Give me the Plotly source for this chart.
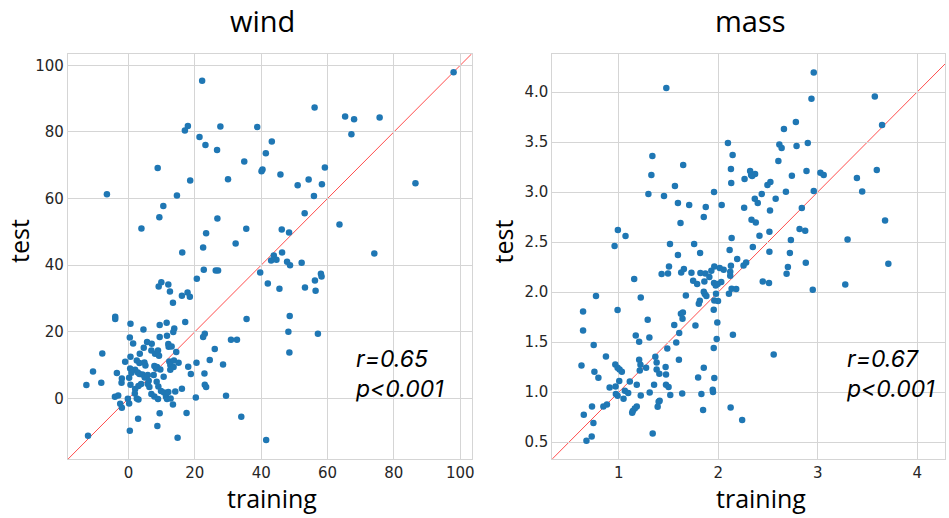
import plotly.graph_objects as go

# ---------------- data ----------------
wind_training = [22.2,17.9,17.0,27.7,38.8,21.4,23.2,26.7,41.4,34.9,40.4,40.1,8.8,30.0,18.6,-6.5,14.6,10.5,9.3,26.8,3.9,23.4,35.5,32.3,16.2,22.5,
    98.0,56.1,65.3,68.0,75.7,67.2,43.2,59.2,45.8,54.3,51.0,58.3,55.9,86.5,53.1,46.2,48.4,63.6,46.3,43.8,74.1,
    43.0,44.6,47.8,48.7,52.2,39.7,42.0,45.5,53.2,56.2,58.0,58.2,56.4,48.6,48.2,57.1,48.5,41.5,
    22.7,26.3,27.0,20.6,9.9,9.1,12.0,12.5,17.8,18.5,16.1,13.4,-4.0,-4.0,0.6,4.5,9.4,11.5,13.8,13.5,17.1,35.6,23.0,22.5,30.9,32.7,26.0,24.5,28.5,20.5,22.9,18.8,18.0,23.0,23.4,29.4,20.3,16.1,34.0,17.5,14.8,8.7,9.4,2.9,0.4,-12.2,-12.7,-8.2,-10.7,-7.9,-1.0,-3.5,-2.0,-2.1,-4.1,-3.1,-2.5,-2.0,-0.2,0.2,0.6,0.2,0.6,0.4,1.4,2.5,3.3,3.4,4.6,5.6,7.0,6.9,8.0,8.9,9.2,9.4,11.6,12.0,12.1,13.0,14.4,12.3,13.7,15.1,12.6,13.6,12.6,4.8,5.1,7.8,8.6,8.3,9.6,7.6,10.6,2.0,2.8,3.3,0.5,0.9,4.2,4.9,5.8,6.1,3.8,3.0,2.0,5.8,6.3,8.5,9.0,9.8,10.7,6.9,7.8,8.9,1.9,2.5,3.0,11.3,11.6,12.7,12.0,14.1,13.4]
wind_test = [95.4,81.8,80.4,81.6,81.5,78.5,76.1,74.6,73.6,71.1,68.7,68.2,69.2,65.8,65.4,61.3,60.9,57.8,54.4,54.0,51.0,49.6,50.9,46.5,43.8,45.3,
    97.9,87.3,84.6,83.8,84.3,79.3,77.1,69.3,67.2,65.7,64.0,64.3,60.8,64.6,55.6,50.7,49.8,52.2,43.8,42.9,43.5,
    41.4,41.6,41.0,40.0,40.7,37.8,34.5,32.9,33.3,35.4,37.4,36.6,32.3,24.7,20.0,19.4,13.8,-12.5,
    38.6,38.4,38.4,35.9,34.9,33.6,34.2,32.1,31.8,30.5,30.8,28.7,24.5,23.8,22.4,20.7,22.0,22.7,21.0,19.9,22.9,23.8,19.4,18.4,17.6,17.6,14.8,11.5,10.2,10.7,7.5,7.3,9.5,4.1,3.4,0.8,0.3,2.9,-5.5,-4.4,-11.8,-8.3,-4.5,-6.1,-9.7,-11.2,4.0,4.7,8.1,13.5,11.0,7.6,6.0,4.7,0.5,0.9,-1.6,-2.8,-0.1,-1.5,4.1,6.2,12.5,18.3,16.5,11.4,10.6,13.4,15.2,16.9,16.4,14.4,13.4,14.4,12.8,18.4,18.8,16.3,15.5,15.6,13.9,11.1,11.4,10.7,10.0,9.4,8.6,10.8,9.9,9.7,9.4,9.0,8.7,7.0,6.5,8.6,7.8,7.3,9.0,7.7,7.2,6.3,7.0,5.3,4.3,3.7,2.8,4.3,3.4,5.0,3.6,2.2,1.8,1.3,0.6,-0.2,1.5,0.0,-0.3,0.5,-0.2,0.0,1.9,2.1,-1.8]

mass_training = [1.477,2.097,1.337,2.144,2.127,1.647,1.327,2.13,1.564,1.297,1.454,1.957,1.594,1.707,1.874,2.034,1.854,1.62,0.99,1.067,0.957,2.134,1.514,1.757,2.114,1.817,1.594,
    2.96,2.937,3.574,3.647,2.78,2.66,2.614,2.637,2.787,2.9,2.604,2.32,2.34,2.37,2.33,2.264,2.524,2.494,2.74,2.887,3.027,3.06,3.394,3.594,3.447,2.96,2.68,2.437,2.367,2.397,2.577,2.26,2.52,2.84,2.334,2.377,3.677,2.817,2.874,2.514,2.414,2.73,3.3,2.347,2.514,2.72,2.19,
    2.88,3.71,2.127,2.12,2.12,2.254,2.28,2.7,2.687,2.447,2.51,2.134,2.18,2.107,2.95,3.277,2.147,2.557,2.124,2.24,
    1.504,1.494,1.43,1.627,1.654,1.73,1.747,1.787,1.82,1.87,1.91,1.93,1.96,1.86,2.014,2.054,1.957,1.974,1.994,2.03,1.854,1.864,1.977,1.88,1.674,1.814,1.804,1.96,1.997,1.954,1.624,1.644,1.64,1.99,1.557,1.607,1.77,1.984,1.577,1.487,1.954,1.604,
    1.154,1.22,0.77,0.64,0.987,0.64,1.29,1.17,1.204,1.307,0.747,0.87,0.624,0.754,0.794,0.964,0.987,1.007,1.03,1.204,1.217,1.21,1.274,1.367,1.38,1.38,1.47,1.474,1.407,1.11,1.004,0.967,0.907,1.18,1.354,1.474,1.5,1.797,1.854,1.96,1.944,1.947,0.97,0.987,1.06,1.094,1.047,1.22,1.31,1.517,1.637,1.83,1.41,1.4,1.39,1.18,1.16,1.14,1.134,0.88,0.844,0.73,0.647,0.744,0.727,0.674,1.34,1.847]
mass_test = [4.04,3.49,3.36,3.37,3.23,3.27,3.17,3.09,3.06,2.98,2.96,3.0,2.89,2.87,2.85,2.87,2.75,2.69,2.62,2.56,2.46,2.54,2.48,2.48,2.42,2.39,2.37,
    4.196,3.933,3.956,3.67,3.70,3.63,3.476,3.44,3.46,3.49,3.31,3.21,3.16,3.18,3.17,3.13,3.10,3.07,3.163,3.21,3.193,3.17,3.14,3.22,3.006,3.01,3.003,2.98,2.933,2.89,2.933,2.843,2.816,2.84,2.723,2.696,2.716,2.63,2.613,2.603,2.563,2.52,2.526,2.45,2.403,2.39,2.33,
    2.293,2.283,2.263,2.203,2.163,2.266,2.296,2.25,2.183,2.106,2.09,2.033,2.03,1.983,2.023,2.076,1.573,1.376,0.846,0.72,
    2.256,2.186,2.18,2.196,2.23,2.193,2.113,2.08,2.19,2.186,2.15,2.213,2.256,2.106,2.24,2.223,2.09,2.066,2.08,2.1,2.003,1.98,1.983,1.96,1.966,1.913,1.883,1.916,1.91,1.823,1.783,1.796,1.733,1.696,1.67,1.59,1.666,1.53,1.496,1.436,1.44,1.323,
    2.13,1.946,1.96,1.806,1.82,1.616,1.723,1.566,1.503,1.546,1.47,1.356,1.266,1.203,1.143,1.276,1.243,1.226,1.203,1.323,1.273,1.216,1.243,1.353,1.296,1.226,1.25,1.176,1.183,1.106,1.11,1.056,1.046,1.073,1.073,1.073,1.05,1.146,1.243,1.14,1.023,1.0,0.98,0.963,1.013,0.99,0.933,0.966,0.996,0.97,0.986,0.98,0.913,0.903,0.853,0.856,0.836,0.81,0.793,0.876,0.856,0.856,0.773,0.69,0.556,0.513,0.586,0.82]

titles = ["wind", "mass"]
stats = ["r=0.65<br>p<0.001", "r=0.67<br>p<0.001"]
wind_xrange = [-18.3, 103.4]
wind_yrange = [-18.2, 103.4]
mass_xrange = [0.33, 4.28]
mass_yrange = [0.33, 4.38]
wind_ticks = [0, 20, 40, 60, 80, 100]
mass_xticks = [1, 2, 3, 4]
mass_yticks = [0.5, 1.0, 1.5, 2.0, 2.5, 3.0, 3.5, 4.0]

# ---------------- styling ----------------
W, H = 949, 518
TITLE_FONT = "Open Sans, Noto Sans, sans-serif"
TICK_FONT = "DejaVu Sans, sans-serif"
BLUE = "#1f77b4"
RED = "#ff4d4d"
GRID = "#d5d5d5"
TXT = "#262626"

def px_x(p):  # pixel -> paper x
    return p / W

def px_y(p):  # pixel -> paper y
    return 1 - p / H

left_dom = [px_x(68), px_x(473)]
right_dom = [px_x(554), px_x(948)]
ydom = [px_y(459), px_y(54)]

fig = go.Figure()
shapes = []

def add_panel(xs, ys, xr, yr, xa, ya):
    lo = max(xr[0], yr[0]); hi = min(xr[1], yr[1])
    # identity line y = x in the panel's data coordinates
    shapes.append(dict(type="line", xref=xa, yref=ya, x0=lo, y0=lo, x1=hi, y1=hi,
                       line=dict(color=RED, width=1), layer="below"))
    fig.add_trace(go.Scatter(x=xs, y=ys, mode="markers",
                             marker=dict(color=BLUE, size=6.5, line=dict(width=0)),
                             xaxis=xa, yaxis=ya, showlegend=False))

add_panel(wind_training, wind_test, wind_xrange, wind_yrange, "x", "y")
add_panel(mass_training, mass_test, mass_xrange, mass_yrange, "x2", "y2")

ax_common = dict(showgrid=True, gridcolor=GRID, gridwidth=1, zeroline=False,
                 showline=True, linecolor=GRID, linewidth=1, mirror=True,
                 ticks="", tickfont=dict(family=TICK_FONT, size=15, color=TXT))

fig.update_layout(
    width=W, height=H,
    margin=dict(l=0, r=0, t=0, b=0),
    paper_bgcolor="white", plot_bgcolor="white",
    xaxis=dict(domain=left_dom, range=wind_xrange, tickvals=wind_ticks, anchor="y", **ax_common),
    yaxis=dict(domain=ydom, range=wind_yrange, tickvals=wind_ticks, anchor="x", **ax_common),
    xaxis2=dict(domain=right_dom, range=mass_xrange, tickvals=mass_xticks, anchor="y2", **ax_common),
    yaxis2=dict(domain=ydom, range=mass_yrange, tickvals=mass_yticks, tickformat=".1f", anchor="x2", **ax_common),
    shapes=shapes,
)

annots = []
title_cx = [263.5, 753]
xlabel_cx = [273, 763]
ylabel_cx = [19, 505]
for i, title in enumerate(titles):
    annots.append(dict(text=title, x=px_x(title_cx[i]), y=px_y(20), xref="paper", yref="paper",
                       showarrow=False, font=dict(family=TITLE_FONT, size=29, color="black"),
                       xanchor="center", yanchor="middle"))
    annots.append(dict(text="training", x=px_x(xlabel_cx[i]), y=px_y(498), xref="paper", yref="paper",
                       showarrow=False, font=dict(family=TITLE_FONT, size=25, color="black"),
                       xanchor="center", yanchor="middle"))
    annots.append(dict(text="test", x=px_x(ylabel_cx[i]), y=px_y(241),
                       xref="paper", yref="paper", textangle=-90,
                       showarrow=False, font=dict(family=TITLE_FONT, size=25, color="black"),
                       xanchor="center", yanchor="middle"))
for xa, ya, sx, st in zip(["x domain", "x2 domain"], ["y domain", "y2 domain"], [0.706, 0.744], stats):
    annots.append(dict(text="<i>" + st + "</i>", x=sx, y=0.21, xref=xa, yref=ya,
                       showarrow=False, align="left", xanchor="left", yanchor="middle",
                       font=dict(family="Inter, Noto Sans, sans-serif", size=23, color="black")))
fig.update_layout(annotations=annots)

fig.write_html("out.html",
               config={"displayModeBar": False},
               post_script="document.body.style.margin='0';document.body.style.overflow='hidden';")
